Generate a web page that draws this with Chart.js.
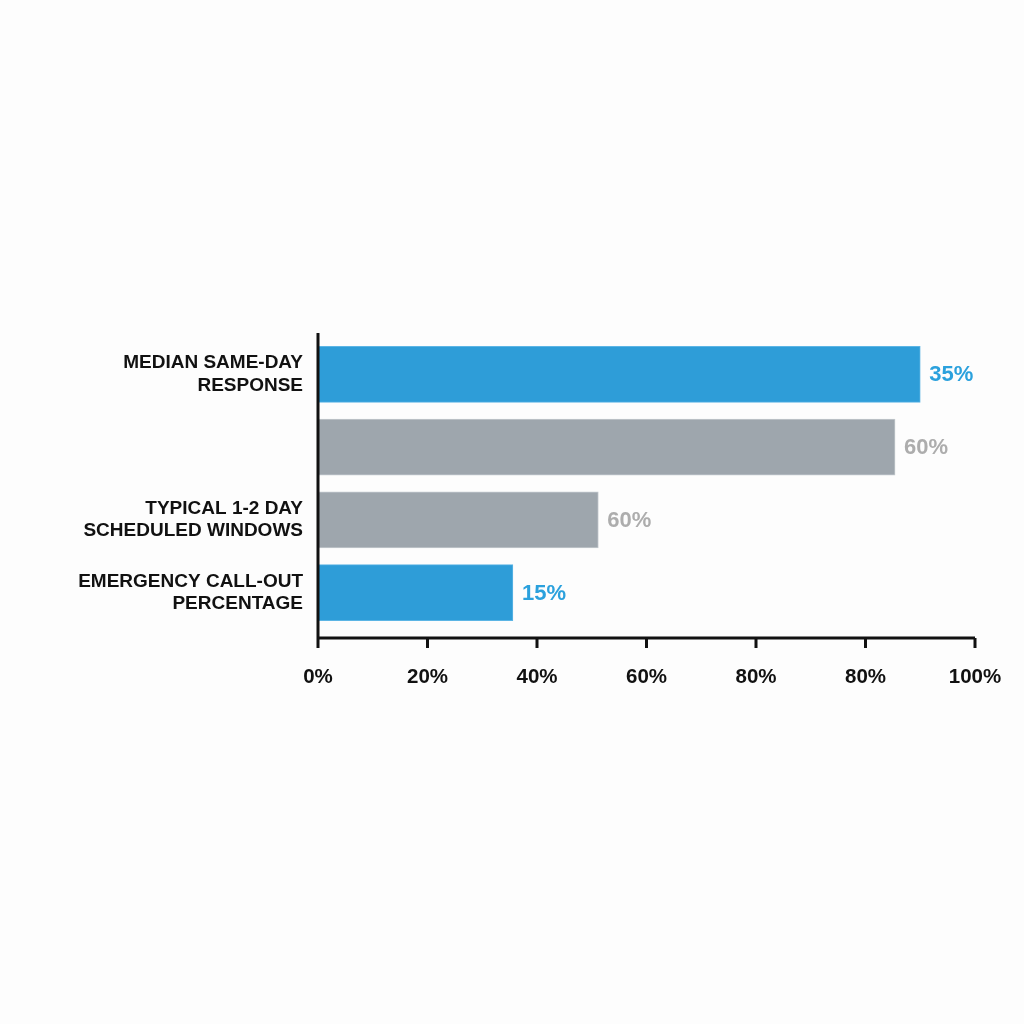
<!DOCTYPE html>
<html>
<head>
<meta charset="utf-8">
<script src="https://cdn.jsdelivr.net/npm/chart.js@4/dist/chart.umd.min.js"></script>
<style>
  html, body { margin: 0; padding: 0; background: #fdfdfd; }
  #wrap { width: 1024px; height: 1024px; }
</style>
</head>
<body>
<div id="wrap"><canvas id="chart" width="1024" height="1024"></canvas></div>
<script>
// Chart data
const categories = [
  ['MEDIAN SAME-DAY', 'RESPONSE'],
  '',
  ['TYPICAL 1-2 DAY', 'SCHEDULED WINDOWS'],
  ['EMERGENCY CALL-OUT', 'PERCENTAGE']
];
const barValues = [110, 105.4, 51.2, 35.6];
const valueLabels = ['35%', '60%', '60%', '15%'];
const tickLabels = ['0%', '20%', '40%', '60%', '80%', '80%', '100%'];
const barColors = ['#2e9dd8', '#9ea6ad', '#9ea6ad', '#2e9dd8'];
const barBorders = ['#5cb5e5', '#c3c9ce', '#c3c9ce', '#5cb5e5'];
const labelColors = ['#2ba1dd', '#adadad', '#adadad', '#2ba1dd'];

const FONT = '"Liberation Sans", Arial, sans-serif';

// axis lines + tick marks drawn by hand so they can run past the bar band
const axisPlugin = {
  id: 'axisLines',
  afterDatasetsDraw(chart) {
    const { ctx, chartArea, scales } = chart;
    const axisY = chartArea.bottom + 9;
    ctx.save();
    ctx.strokeStyle = '#111';
    ctx.lineWidth = 3;
    ctx.beginPath();
    ctx.moveTo(chartArea.left, chartArea.top - 5);
    ctx.lineTo(chartArea.left, axisY + 1.5);
    ctx.moveTo(chartArea.left - 1.5, axisY);
    ctx.lineTo(chartArea.right, axisY);
    scales.x.ticks.forEach(t => {
      const x = scales.x.getPixelForValue(t.value);
      ctx.moveTo(x, axisY);
      ctx.lineTo(x, axisY + 10);
    });
    ctx.stroke();

    // value labels at bar ends
    const meta = chart.getDatasetMeta(0);
    ctx.font = 'bold 22px ' + FONT;
    ctx.textBaseline = 'middle';
    ctx.textAlign = 'left';
    meta.data.forEach((bar, i) => {
      ctx.fillStyle = labelColors[i];
      ctx.fillText(valueLabels[i], bar.x + 9, bar.y + 1);
    });
    ctx.restore();
  }
};

new Chart(document.getElementById('chart').getContext('2d'), {
  type: 'bar',
  data: {
    labels: categories,
    datasets: [{
      data: barValues,
      backgroundColor: barColors,
      borderColor: barBorders,
      borderWidth: 1,
      borderSkipped: false,
      barThickness: 56
    }]
  },
  options: {
    indexAxis: 'y',
    responsive: false,
    animation: false,
    layout: { padding: { left: 0, right: 49, top: 338, bottom: 335 } },
    plugins: {
      legend: { display: false },
      tooltip: { enabled: false }
    },
    scales: {
      x: {
        min: 0,
        max: 120,
        grid: { display: false, drawTicks: false },
        border: { display: false },
        afterFit: s => { s.height = 60; s.paddingLeft = 0; s.paddingRight = 0; },
        ticks: {
          stepSize: 20,
          padding: 36,
          color: '#111',
          font: { family: FONT, size: 20.5, weight: 'bold' },
          callback: (v, i) => tickLabels[i]
        }
      },
      y: {
        grid: { display: false, drawTicks: false },
        border: { display: false },
        afterFit: s => { s.width = 318; s.paddingTop = 0; s.paddingBottom = 0; },
        ticks: {
          padding: 15,
          color: '#111',
          font: { family: FONT, size: 19, weight: 'bold', lineHeight: 1.18 }
        }
      }
    }
  },
  plugins: [axisPlugin]
});
</script>
</body>
</html>
